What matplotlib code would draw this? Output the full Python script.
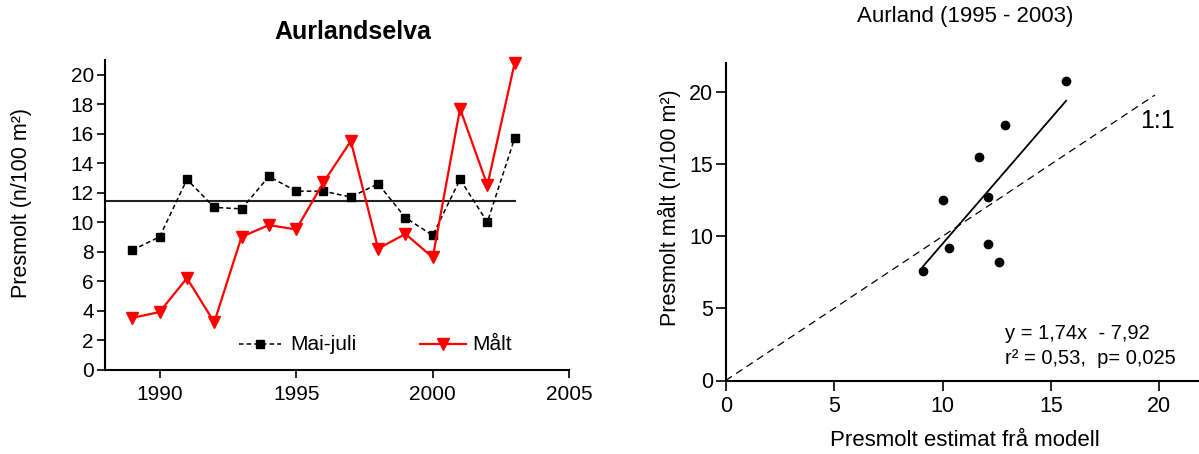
import numpy as np
import matplotlib
matplotlib.use("Agg")
import matplotlib.pyplot as plt

plt.rcParams['font.family'] = ['Liberation Sans', 'DejaVu Sans']

# ---------------- data ----------------
years = [1989, 1990, 1991, 1992, 1993, 1994, 1995, 1996, 1997, 1998,
         1999, 2000, 2001, 2002, 2003]
mai_juli = [8.1, 9.0, 12.9, 11.0, 10.9, 13.1, 12.1, 12.1, 11.7, 12.6,
            10.3, 9.1, 12.9, 10.0, 15.7]
maalt = [3.5, 3.9, 6.2, 3.2, 9.0, 9.8, 9.5, 12.7, 15.5, 8.2,
         9.2, 7.6, 17.7, 12.5, 20.8]

left_title = "Aurlandselva"
left_ylabel = "Presmolt (n/100 m²)"
left_xticks = [1990, 1995, 2000, 2005]
left_yticks = [0, 2, 4, 6, 8, 10, 12, 14, 16, 18, 20]
legend_labels = ["Mai-juli", "Målt"]

# scatter: 1995-2003, model estimate (Mai-juli) vs measured
scatter_start_year = 1995
reg_slope = 1.74
reg_intercept = -7.92
one_to_one_end = 19.8
right_title = "Aurland (1995 - 2003)"
right_xlabel = "Presmolt estimat frå modell"
right_ylabel = "Presmolt målt (n/100 m²)"
right_ticks = [0, 5, 10, 15, 20]
eq_text = "y = 1,74x  - 7,92"
stat_text = "r² = 0,53,  p= 0,025"
ratio_label = "1:1"

# ---------------- figure ----------------
W, H = 1199, 454
fig = plt.figure(figsize=(W / 100, H / 100), dpi=100)

def px_axes(x0, y0, x1, y1):
    return [x0 / W, 1 - y1 / H, (x1 - x0) / W, (y1 - y0) / H]

# ---------- left panel ----------
L = (105, 60, 569.3, 369.5)
ax1 = fig.add_axes(px_axes(*L))
ax1.set_xlim(1988, 2005)
ax1.set_ylim(0, 21)
mean_val = float(np.mean(mai_juli))
ax1.plot([1988, years[-1]], [mean_val, mean_val], color='#222222', lw=1.5, zorder=1)
ax1.plot(years, mai_juli, color='black', ls=(0, (3, 2)), lw=1.1, marker='s',
         markersize=5.5, markerfacecolor='black', markeredgecolor='black',
         clip_on=False, zorder=3)
ax1.plot(years, maalt, color='#ff0000', lw=1.6, marker='v', markersize=8,
         markerfacecolor='#ff0000', markeredgecolor='#ff0000',
         clip_on=False, zorder=4)

# legend drawn by hand inside the axes (data coords)
leg_y = 1.7
ax1.plot([1992.9, 1994.45], [leg_y, leg_y], color='black', ls=(0, (3, 2)), lw=1.1)
ax1.plot([(1992.9 + 1994.45) / 2], [leg_y], marker='s', color='black', markersize=5.5)
ax1.text(1994.8, leg_y, legend_labels[0], fontsize=15, va='center', ha='left')
ax1.plot([1999.54, 2001.22], [leg_y, leg_y], color='#ff0000', lw=1.6)
ax1.plot([(1999.54 + 2001.22) / 2], [leg_y], marker='v', color='#ff0000', markersize=8)
ax1.text(2001.43, leg_y, legend_labels[1], fontsize=15, va='center', ha='left')

ax1.set_xticks(left_xticks)
ax1.set_yticks(left_yticks)
ax1.tick_params(axis='both', direction='out', length=6, width=1.2, labelsize=15)
ax1.tick_params(axis='y', pad=2)
ax1.tick_params(axis='x', pad=5)
for s in ['top', 'right']:
    ax1.spines[s].set_visible(False)
for s in ['left', 'bottom']:
    ax1.spines[s].set_linewidth(1.5)
ax1.set_ylabel(left_ylabel, fontsize=15.5)
ax1.yaxis.label.set_va('center')
ax1.yaxis.set_label_coords((21 - L[0]) / (L[2] - L[0]), (L[3] - 202.5) / (L[3] - L[1]))
fig.text(352.6 / W, 1 - 32.4 / H, left_title, fontsize=18, fontweight='bold',
         ha='center', va='center')

# ---------- right panel ----------
R = (725.7, 63.3, 1199, 380.5)
ax2 = fig.add_axes(px_axes(*R))
ax2.set_xlim(0, (1199 - 725.7) / 21.68)
ax2.set_ylim(0, 22)

i0 = years.index(scatter_start_year)
xs = np.array(mai_juli[i0:])
ys = np.array(maalt[i0:])
ax2.plot(xs, ys, 'o', color='black', markersize=6, zorder=3)
xr = np.array([xs.min(), xs.max()])
ax2.plot(xr, reg_slope * xr + reg_intercept, color='black', lw=1.3)
ax2.plot([0, one_to_one_end], [0, one_to_one_end], color='black', lw=0.9,
         ls=(0, (6, 4)))
ax2.text(19.9, 18.0, ratio_label, fontsize=18, ha='center', va='center')
ax2.text(12.86, 3.29, eq_text, fontsize=14.5, ha='left', va='center')
ax2.text(12.86, 1.56, stat_text, fontsize=14.5, ha='left', va='center')

ax2.set_xticks(right_ticks)
ax2.set_yticks(right_ticks)
ax2.tick_params(axis='both', direction='out', length=7, width=1.2, labelsize=15.5)
ax2.tick_params(axis='y', pad=2)
ax2.tick_params(axis='x', pad=4)
for s in ['top', 'right']:
    ax2.spines[s].set_visible(False)
for s in ['left', 'bottom']:
    ax2.spines[s].set_linewidth(1.5)
ax2.set_ylabel(right_ylabel, fontsize=15.5)
ax2.yaxis.label.set_va('center')
ax2.yaxis.set_label_coords((669 - R[0]) / (R[2] - R[0]), (R[3] - 208) / (R[3] - R[1]))
ax2.set_xlabel(right_xlabel, fontsize=16)
ax2.xaxis.label.set_va('center')
ax2.xaxis.set_label_coords((965 - R[0]) / (R[2] - R[0]), -(440 - R[3]) / (R[3] - R[1]))
fig.text(965 / W, 1 - 16.5 / H, right_title, fontsize=16, ha='center', va='center')

fig.savefig("out.png", dpi=100)
